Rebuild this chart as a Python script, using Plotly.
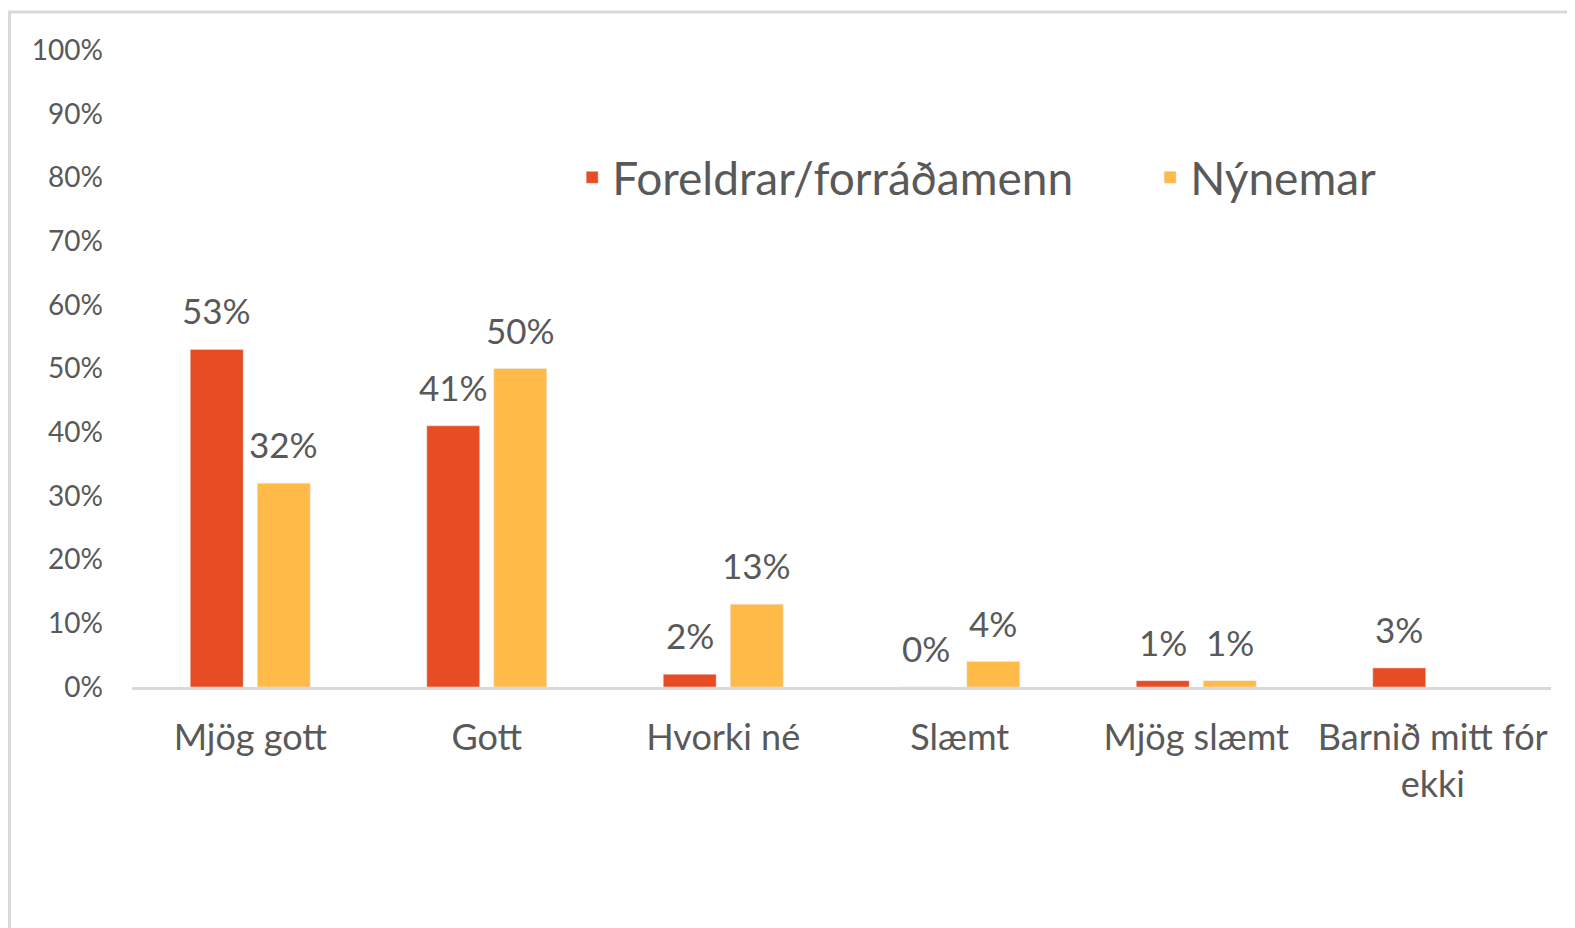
import plotly.graph_objects as go

categories = ["Mjög gott", "Gott", "Hvorki né", "Slæmt", "Mjög slæmt", "Barnið mitt fór<br>ekki"]
series_names = ["Foreldrar/forráðamenn", "Nýnemar"]
parents = [53, 41, 2, 0, 1, 3]
students = [32, 50, 13, 4, 1, None]
y_ticks = [0, 10, 20, 30, 40, 50, 60, 70, 80, 90, 100]
y_tick_labels = [f"{v}%" for v in y_ticks]

RED = "#E84C22"
YEL = "#FFBA47"
TXT = "#595959"
FONT = "Lato, 'Open Sans', sans-serif"

fig = go.Figure()
fig.add_trace(go.Bar(x=categories, y=parents, name=series_names[0], marker_color=RED, legend="legend"))
fig.add_trace(go.Bar(x=categories, y=students, name=series_names[1], marker_color=YEL, legend="legend2"))

# data labels
annotations = []
for vals, shift in [(parents, -33.5), (students, 33.5)]:
    for c, v in zip(categories, vals):
        if v is None:
            continue
        annotations.append(dict(x=c, y=v, xref="x", yref="y", text=f"{v}%", showarrow=False,
                                xshift=shift, yshift=16, yanchor="bottom",
                                font=dict(size=35, color=TXT, family=FONT)))

legend_style = dict(orientation="h", y=0.80, xanchor="left", yanchor="middle",
                    font=dict(size=46, color=TXT, family=FONT), bgcolor="rgba(0,0,0,0)",
                    itemwidth=30)

fig.update_layout(
    width=1567, height=920,
    margin=dict(l=124, r=24, t=42, b=241),
    paper_bgcolor="white", plot_bgcolor="white",
    barmode="group", bargap=0.433, bargroupgap=0.21,
    font=dict(family=FONT, color=TXT),
    annotations=annotations,
    showlegend=True,
    legend=dict(x=0.3102, **legend_style),
    legend2=dict(x=0.7175, **legend_style),
    shapes=[dict(type="rect", xref="paper", yref="paper", x0=-0.0863, x1=1.2, y0=-0.6, y1=1.0597,
                 line=dict(color="#D9D9D9", width=3), fillcolor="rgba(0,0,0,0)", layer="below")],
)
fig.update_xaxes(showline=True, linecolor="#D9D9D9", linewidth=3, showgrid=False, zeroline=False,
                 tickfont=dict(size=36, color=TXT, family=FONT), ticks="", ticklabelstandoff=17)
fig.update_yaxes(range=[0, 100], tickvals=y_ticks, ticktext=y_tick_labels, showgrid=False,
                 zeroline=False, showline=False, tickfont=dict(size=28, color=TXT, family=FONT),
                 ticklabelstandoff=28)

fig.write_html("out.html")
